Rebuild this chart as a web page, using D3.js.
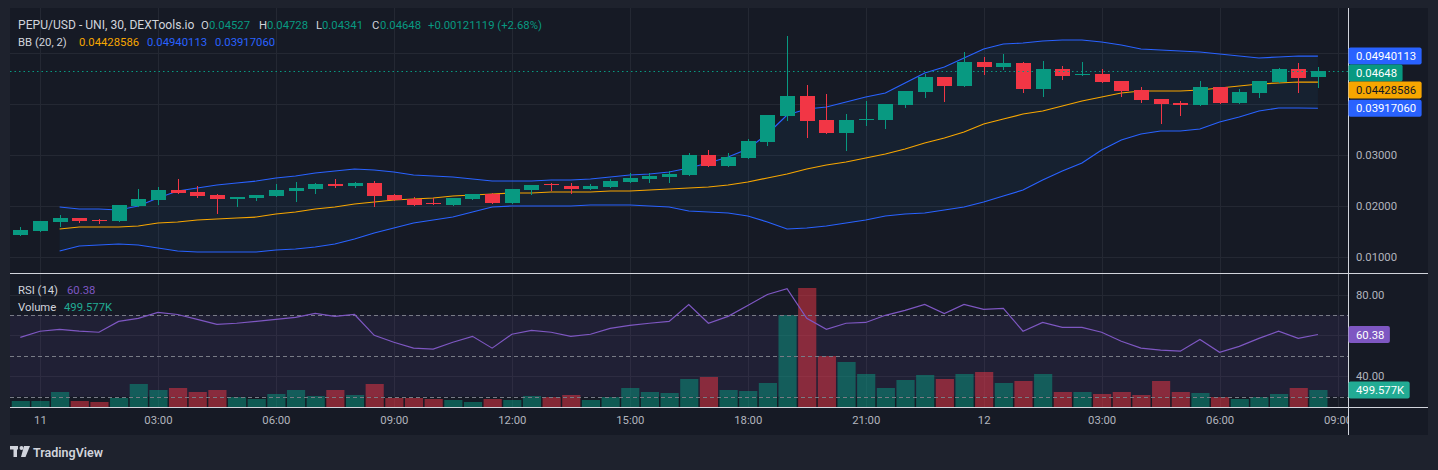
<!DOCTYPE html>
<html><head><meta charset="utf-8">
<script src="https://cdn.jsdelivr.net/npm/d3@7/dist/d3.min.js"></script>
<style>
html,body{margin:0;padding:0;background:#1e222d;overflow:hidden}
text{font-family:Roboto,"Noto Sans",sans-serif}
</style>
</head><body>
<svg id="c" width="1438" height="470"></svg>
<script>
// ---------------- DATA ----------------
const openP  = [0.01431,0.01510,0.01686,0.01765,0.01725,0.01706,0.02000,0.02118,0.02314,0.02275,
0.02216,0.02137,0.02157,0.02196,0.02294,0.02333,0.02431,0.02392,0.02451,0.02216,
0.02137,0.02059,0.02020,0.02137,0.02235,0.02059,0.02314,0.02422,0.02392,0.02333,
0.02373,0.02471,0.02529,0.02569,0.02608,0.03000,0.02784,0.02941,0.03255,0.03765,
0.04157,0.03686,0.03431,0.03706,0.03686,0.03980,0.04235,0.04529,0.04353,0.04824,
0.04725,0.04804,0.04294,0.04686,0.04578,0.04588,0.04451,0.04275,0.04098,0.04020,
0.03980,0.04333,0.04020,0.04216,0.04431,0.04686,0.04527];
const highP  = [0.01588,0.01706,0.01824,0.01765,0.01745,0.02020,0.02333,0.02373,0.02529,0.02392,
0.02235,0.02176,0.02216,0.02431,0.02471,0.02451,0.02529,0.02471,0.02490,0.02235,
0.02176,0.02157,0.02157,0.02235,0.02255,0.02333,0.02412,0.02451,0.02451,0.02431,
0.02529,0.02647,0.02647,0.02686,0.03039,0.03098,0.03039,0.03314,0.03784,0.05333,
0.04373,0.04196,0.03804,0.04059,0.04000,0.04255,0.04588,0.04529,0.05020,0.04922,
0.04980,0.04824,0.04843,0.04745,0.04824,0.04686,0.04451,0.04333,0.04098,0.04059,
0.04451,0.04333,0.04294,0.04451,0.04706,0.04804,0.04728];
const lowP   = [0.01431,0.01510,0.01608,0.01686,0.01667,0.01706,0.02000,0.02039,0.02255,0.02176,
0.01863,0.02000,0.02118,0.02196,0.02098,0.02255,0.02373,0.02373,0.02000,0.02118,
0.02020,0.02039,0.02020,0.02137,0.02059,0.02059,0.02235,0.02314,0.02255,0.02333,
0.02373,0.02471,0.02471,0.02471,0.02608,0.02784,0.02784,0.02941,0.03196,0.03686,
0.03353,0.03431,0.03098,0.03588,0.03529,0.03941,0.04137,0.04059,0.04353,0.04588,
0.04686,0.04235,0.04157,0.04490,0.04578,0.04431,0.04157,0.04039,0.03627,0.03784,
0.03980,0.04020,0.04020,0.04137,0.04431,0.04235,0.04341];
const closeP = [0.01529,0.01706,0.01765,0.01706,0.01706,0.02020,0.02137,0.02314,0.02255,0.02196,
0.02137,0.02176,0.02216,0.02314,0.02353,0.02431,0.02392,0.02451,0.02196,0.02118,
0.02020,0.02039,0.02157,0.02235,0.02059,0.02333,0.02412,0.02402,0.02333,0.02392,
0.02490,0.02549,0.02588,0.02627,0.03000,0.02784,0.02961,0.03275,0.03784,0.04157,
0.03667,0.03431,0.03686,0.03710,0.04000,0.04255,0.04529,0.04353,0.04824,0.04725,
0.04804,0.04294,0.04686,0.04549,0.04598,0.04431,0.04255,0.04078,0.04000,0.03980,
0.04333,0.04020,0.04235,0.04451,0.04686,0.04510,0.04648];
// volume in thousands
const volumeK = [176,176,441,176,147,265,676,500,559,441,
500,294,235,382,500,323,500,353,676,265,
265,235,206,147,235,206,323,294,353,206,
294,559,441,412,823,882,500,470,706,2705,
3499,1499,1323,970,559,794,941,823,970,1029,
706,764,970,441,441,382,441,353,764,441,
412,294,235,294,382,559,499.577];
const rsi = [59.0,62.0,62.9,62.0,61.5,66.8,68.3,71.2,70.2,67.8,
65.4,65.9,66.8,67.8,68.8,70.7,69.3,70.2,60.0,56.6,
53.7,53.2,56.6,59.5,53.7,60.5,62.4,61.5,59.5,60.5,
63.4,64.9,65.9,66.8,75.1,65.9,69.3,74.6,80.0,82.9,
68.3,62.9,65.9,66.3,69.8,72.2,75.1,70.7,75.1,72.7,
73.2,62.0,66.3,63.9,63.9,61.5,57.1,53.7,52.7,52.2,
58.0,51.7,54.6,58.5,62.0,58.5,60.38];
// Bollinger bands, starting at candle index bbStart
const bbStart = 2;
const bbUpper = [0.01980,0.01941,0.01941,0.01922,0.02000,0.02157,0.02294,0.02353,0.02412,0.02451,
0.02490,0.02549,0.02588,0.02647,0.02686,0.02725,0.02706,0.02667,0.02608,0.02588,
0.02569,0.02529,0.02490,0.02490,0.02490,0.02510,0.02510,0.02529,0.02569,0.02608,
0.02627,0.02667,0.02745,0.02843,0.02961,0.03118,0.03412,0.03784,0.03902,0.03941,
0.04039,0.04137,0.04216,0.04412,0.04608,0.04725,0.04902,0.05078,0.05176,0.05196,
0.05235,0.05255,0.05255,0.05216,0.05157,0.05078,0.05059,0.05039,0.05020,0.04980,
0.04941,0.04902,0.04922,0.04941,0.04940113];
const bbBasis = [0.01549,0.01588,0.01588,0.01588,0.01608,0.01667,0.01686,0.01725,0.01745,0.01765,
0.01784,0.01843,0.01882,0.01941,0.01980,0.02039,0.02078,0.02118,0.02137,0.02157,
0.02196,0.02216,0.02235,0.02255,0.02255,0.02275,0.02275,0.02275,0.02294,0.02294,
0.02314,0.02333,0.02353,0.02373,0.02412,0.02471,0.02549,0.02627,0.02725,0.02804,
0.02863,0.02941,0.03020,0.03118,0.03235,0.03333,0.03451,0.03608,0.03706,0.03804,
0.03863,0.03961,0.04059,0.04137,0.04216,0.04255,0.04255,0.04255,0.04275,0.04314,
0.04353,0.04392,0.04412,0.04431,0.04428586];
const bbLower = [0.01118,0.01216,0.01235,0.01255,0.01235,0.01176,0.01118,0.01098,0.01098,0.01098,
0.01098,0.01137,0.01157,0.01196,0.01255,0.01353,0.01471,0.01569,0.01667,0.01725,
0.01784,0.01882,0.01980,0.02000,0.02000,0.02000,0.02000,0.02020,0.02020,0.02020,
0.02000,0.01980,0.01902,0.01882,0.01863,0.01804,0.01686,0.01549,0.01569,0.01608,
0.01667,0.01725,0.01804,0.01843,0.01863,0.01922,0.01980,0.02078,0.02196,0.02314,
0.02510,0.02686,0.02843,0.03098,0.03294,0.03412,0.03471,0.03471,0.03510,0.03647,
0.03745,0.03863,0.03922,0.03922,0.03917060];
const priceTicks = [0.01,0.02,0.03,0.04,0.05];
const rsiTicks = [40,60,80];
const rsiLevels = [70,50,30];
const timeTickIndex = [1,7,13,19,25,31,37,43,49,55,61,67];
const timeTickLabels = ["11","03:00","06:00","09:00","12:00","15:00","18:00","21:00","12","03:00","06:00","09:00"];
const changeText = "+0.00121119 (+2.68%)";

// ---------------- LAYOUT ----------------
const svg = d3.select("#c");
const L = 10, R = 1348, T = 8, SEP = 273.5, LOWB = 407, B = 435, RE = 1428;
const UP = "#089981", DN = "#f23645", GRID = "#242833", AX = "#b2b5be";
const FS = "11.3px";

const n = closeP.length;
const x = d3.scaleLinear().domain([0, n - 1]).range([20.3, 1317.9]);
const step = x(1) - x(0);
const y = d3.scaleLinear().domain([0.01, 0.05]).range([257, 53]);
const yR = d3.scaleLinear().domain([30, 80]).range([396.5, 294.5]);
const yV = d3.scaleLinear().domain([0, 3499]).range([LOWB, 288]);

svg.append("rect").attr("width", 1438).attr("height", 470).attr("fill", "#1e222d");
svg.append("rect").attr("x", L).attr("y", T).attr("width", RE - L).attr("height", B - T).attr("fill", "#161a25");

const defs = svg.append("defs");
defs.append("clipPath").attr("id", "pc").append("rect").attr("x", L).attr("y", T).attr("width", R - L).attr("height", SEP - T);
defs.append("clipPath").attr("id", "lc").append("rect").attr("x", L).attr("y", SEP).attr("width", R - L).attr("height", LOWB - SEP);
defs.append("clipPath").attr("id", "xc").append("rect").attr("x", L).attr("y", LOWB).attr("width", R - L).attr("height", B - LOWB);

// grid
const grid = svg.append("g");
timeTickIndex.forEach(i => {
  const gx = Math.round(x(i)) + 0.5;
  if (gx < R) grid.append("line").attr("x1", gx).attr("x2", gx).attr("y1", T).attr("y2", LOWB).attr("stroke", GRID);
});
priceTicks.forEach(p => {
  const gy = Math.round(y(p)) + 0.5;
  grid.append("line").attr("x1", L).attr("x2", R).attr("y1", gy).attr("y2", gy).attr("stroke", GRID);
});
rsiTicks.forEach(v => {
  const gy = Math.round(yR(v)) + 0.5;
  grid.append("line").attr("x1", L).attr("x2", R).attr("y1", gy).attr("y2", gy).attr("stroke", GRID);
});

// ---------------- PRICE PANE ----------------
const pp = svg.append("g").attr("clip-path", "url(#pc)");
const bbIdx = bbUpper.map((_, k) => k + bbStart);
const area = d3.area().x(i => x(i)).y0(i => y(bbLower[i - bbStart])).y1(i => y(bbUpper[i - bbStart]));
pp.append("path").attr("d", area(bbIdx)).attr("fill", "rgba(33,150,243,0.06)");
const lineOf = arr => d3.line().x(i => x(i)).y(i => y(arr[i - bbStart]));
pp.append("path").attr("d", lineOf(bbUpper)(bbIdx)).attr("fill", "none").attr("stroke", "#2962ff").attr("stroke-width", 1.2);
pp.append("path").attr("d", lineOf(bbLower)(bbIdx)).attr("fill", "none").attr("stroke", "#2962ff").attr("stroke-width", 1.2);
pp.append("path").attr("d", lineOf(bbBasis)(bbIdx)).attr("fill", "none").attr("stroke", "#f7a600").attr("stroke-width", 1.2);

// current price dotted line
const cy = Math.round(y(closeP[n - 1])) + 0.5;
svg.append("line").attr("x1", L).attr("x2", R).attr("y1", cy).attr("y2", cy)
  .attr("stroke", UP).attr("stroke-dasharray", "1.5,3").attr("stroke-width", 1.2);

// candles
const bw = Math.round(step * 0.765);
const cg = pp.append("g");
d3.range(n).forEach(i => {
  const o = openP[i], c = closeP[i], hi = highP[i], lo = lowP[i];
  const col = c >= o ? UP : DN;
  const cx = Math.round(x(i));
  cg.append("line").attr("x1", cx + 0.5).attr("x2", cx + 0.5)
    .attr("y1", Math.round(y(hi))).attr("y2", Math.round(y(lo)) + 1).attr("stroke", col);
  const top = Math.round(y(Math.max(o, c)));
  const h = Math.max(1, Math.round(y(Math.min(o, c))) - top);
  cg.append("rect").attr("x", cx + 0.5 - bw / 2).attr("y", top).attr("width", bw).attr("height", h).attr("fill", col);
});

// ---------------- LOWER PANE ----------------
const lp = svg.append("g").attr("clip-path", "url(#lc)");
lp.append("rect").attr("x", L).attr("y", yR(70)).attr("width", R - L).attr("height", yR(30) - yR(70))
  .attr("fill", "rgba(126,87,194,0.1)");
const vw = step - 1.5;
d3.range(n).forEach(i => {
  const col = closeP[i] >= openP[i] ? "rgba(8,153,129,0.5)" : "rgba(242,54,69,0.5)";
  const top = Math.round(yV(volumeK[i]));
  lp.append("rect").attr("x", x(i) + 0.5 - vw / 2).attr("y", top).attr("width", vw).attr("height", LOWB - top).attr("fill", col);
});
rsiLevels.forEach(v => {
  const gy = Math.round(yR(v)) + 0.5;
  lp.append("line").attr("x1", L).attr("x2", R).attr("y1", gy).attr("y2", gy)
    .attr("stroke", "#787b86").attr("stroke-dasharray", "4,3");
});
lp.append("path").attr("d", d3.line().x((d, i) => x(i)).y(d => yR(d))(rsi))
  .attr("fill", "none").attr("stroke", "#7e57c2").attr("stroke-width", 1.2);

// separators
svg.append("line").attr("x1", L).attr("x2", RE).attr("y1", SEP).attr("y2", SEP).attr("stroke", "#d1d4dc");
svg.append("line").attr("x1", L).attr("x2", RE).attr("y1", LOWB + 0.5).attr("y2", LOWB + 0.5).attr("stroke", "#d1d4dc");
svg.append("line").attr("x1", R + 0.5).attr("x2", R + 0.5).attr("y1", T).attr("y2", B).attr("stroke", "#d1d4dc");

// ---------------- VALUE BOXES (positions first, to hide colliding axis labels) ----------------
const last = bbUpper.length - 1;
const boxes = [
  {v: bbUpper[last], t: d3.format(".8f")(bbUpper[last]), f: "#2962ff", c: "#ffffff"},
  {v: closeP[n - 1], t: d3.format(".5f")(closeP[n - 1]), f: UP, c: "#ffffff"},
  {v: bbBasis[last], t: d3.format(".8f")(bbBasis[last]), f: "#f7a600", c: "#131722"},
  {v: bbLower[last], t: d3.format(".8f")(bbLower[last]), f: "#2962ff", c: "#ffffff"}
];
let prev = -1e9;
boxes.forEach(b => { b.yc = Math.max(y(b.v), prev + 17); prev = b.yc; });
const lowBoxes = [
  {yc: yR(rsi[n - 1]), t: d3.format(".2f")(rsi[n - 1]), f: "#7e57c2", c: "#ffffff"},
  {yc: yV(volumeK[n - 1]), t: d3.format(".3f")(volumeK[n - 1]) + "K", f: "#22ab94", c: "#ffffff"}
];
const allBoxes = boxes.concat(lowBoxes);
const hidden = yy => allBoxes.some(b => Math.abs(b.yc - yy) < 11);

// ---------------- AXES ----------------
const styleAxis = g => {
  g.select(".domain").remove();
  g.selectAll("text").attr("fill", AX).style("font-size", FS).style("font-family", "Roboto, sans-serif");
};
svg.append("g").attr("transform", `translate(${R},0)`)
  .call(d3.axisRight(y).tickValues(priceTicks.filter(p => !hidden(y(p)))).tickFormat(d3.format(".5f")).tickSize(0).tickPadding(8)).call(styleAxis);
svg.append("g").attr("transform", `translate(${R},0)`)
  .call(d3.axisRight(yR).tickValues(rsiTicks.filter(v => !hidden(yR(v)))).tickFormat(d3.format(".2f")).tickSize(0).tickPadding(8)).call(styleAxis);
svg.append("g").attr("clip-path", "url(#xc)").append("g").attr("transform", `translate(0,${LOWB})`)
  .call(d3.axisBottom(x).tickValues(timeTickIndex).tickFormat((d, k) => timeTickLabels[k]).tickSize(0).tickPadding(9)).call(styleAxis);

function box(b) {
  const g = svg.append("g");
  const t = g.append("text").attr("x", R + 8).attr("y", b.yc).attr("dy", "0.36em")
    .attr("fill", b.c).style("font-size", FS).text(b.t);
  const w = t.node().getComputedTextLength() + 13;
  g.insert("rect", "text").attr("x", R + 0.5).attr("y", b.yc - 8.5).attr("width", w).attr("height", 17).attr("rx", 2).attr("fill", b.f);
}
allBoxes.forEach(box);

// ---------------- LEGENDS ----------------
function txt(xp, yp, s, col, fs) {
  svg.append("text").attr("x", xp).attr("y", yp).attr("fill", col).style("font-size", fs || FS).text(s);
}
const f5 = d3.format(".5f"), f8 = d3.format(".8f");
const L1 = 29, L2 = 46;
txt(18, L1, "PEPU/USD - UNI, 30, DEXTools.io", "#d1d4dc", "12.1px");
txt(201, L1, "O", "#d1d4dc"); txt(209, L1, f5(openP[n - 1]), UP);
txt(259, L1, "H", "#d1d4dc"); txt(267, L1, f5(highP[n - 1]), UP);
txt(316, L1, "L", "#d1d4dc"); txt(322, L1, f5(lowP[n - 1]), UP);
txt(372, L1, "C", "#d1d4dc"); txt(380, L1, f5(closeP[n - 1]), UP);
txt(428, L1, changeText, UP);
txt(18, L2, "BB (20, 2)", "#d1d4dc");
txt(79, L2, f8(bbBasis[last]), "#f7a600");
txt(147, L2, f8(bbUpper[last]), "#2962ff");
txt(215, L2, f8(bbLower[last]), "#2962ff");
txt(18, 294, "RSI (14)", "#d1d4dc"); txt(67, 294, d3.format(".2f")(rsi[n - 1]), "#7e57c2");
txt(18, 311, "Volume", "#d1d4dc"); txt(64, 311, d3.format(".3f")(volumeK[n - 1]) + "K", "#22ab94");

// ---------------- LOGO ----------------
const lg = svg.append("g").attr("fill", "#d1d4dc");
lg.append("rect").attr("x", 10).attr("y", 446).attr("width", 8).attr("height", 3.5);
lg.append("rect").attr("x", 13.5).attr("y", 446).attr("width", 3.5).attr("height", 11);
lg.append("circle").attr("cx", 21.5).attr("cy", 448).attr("r", 2);
lg.append("path").attr("d", "M24,446 L30,446 L25.5,457 L21,457 Z");
svg.append("text").attr("x", 33).attr("y", 456.5).attr("fill", "#d1d4dc")
  .style("font-size", "12.5px").style("font-weight", "600").text("TradingView");
</script>
</body></html>
